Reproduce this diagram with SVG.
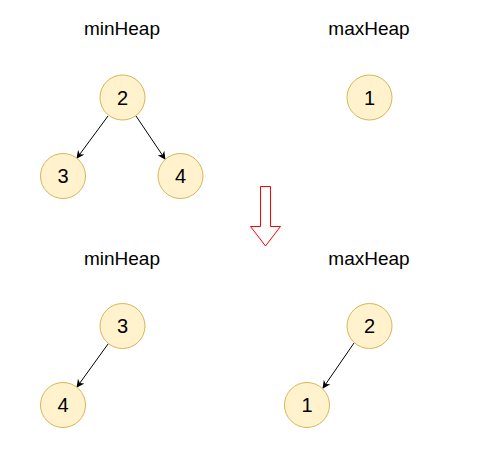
<svg xmlns="http://www.w3.org/2000/svg" width="478" height="460" viewBox="0 0 478 460">
<style>
.n{fill:#fff2cc;stroke:#d6b656;stroke-width:1}
.t{font-family:"Liberation Sans",Arial,sans-serif;font-size:20px;fill:#000;text-anchor:middle}
.h{font-family:"Liberation Sans",Arial,sans-serif;font-size:19px;fill:#000;text-anchor:middle}
.e{stroke:#000;stroke-width:1;fill:none;marker-end:url(#a)}
</style>
<defs>
<marker id="a" viewBox="0 0 10 10" refX="9" refY="5" markerWidth="8" markerHeight="8" markerUnits="userSpaceOnUse" orient="auto">
<path d="M0,0 L10,5 L0,10 L3,5 Z" fill="#000"/>
</marker>
</defs>
<rect width="478" height="460" fill="#fff"/>
<g id="labels">
<text class="h" x="122" y="35">minHeap</text>
<text class="h" x="369" y="35">maxHeap</text>
<text class="h" x="122" y="265">minHeap</text>
<text class="h" x="369" y="265">maxHeap</text>
</g>
<g id="connectors">
<line class="e" x1="108" y1="116" x2="77" y2="158"/>
<line class="e" x1="136" y1="116" x2="165" y2="159"/>
<line class="e" x1="108" y1="344" x2="77" y2="387"/>
<line class="e" x1="354" y1="343" x2="323" y2="388"/>
</g>
<g id="n-min-2"><circle class="n" cx="122.5" cy="97.5" r="22.5"/><text class="t" x="122.5" y="104.5">2</text></g>
<g id="n-min-3"><circle class="n" cx="63" cy="176" r="22.5"/><text class="t" x="63" y="183">3</text></g>
<g id="n-min-4"><circle class="n" cx="180.5" cy="176" r="22.5"/><text class="t" x="180.5" y="183">4</text></g>
<g id="n-max-1"><circle class="n" cx="369.5" cy="97.5" r="22.5"/><text class="t" x="369.5" y="104.5">1</text></g>
<g id="arrow-down"><path d="M260.5,186.5 L270.5,186.5 L270.5,226.5 L280.5,226.5 L265.5,246 L250.5,226.5 L260.5,226.5 Z" fill="#fff" stroke="#ff0000" stroke-width="1"/></g>
<g id="n-min2-3"><circle class="n" cx="122.5" cy="326" r="22.5"/><text class="t" x="122.5" y="333">3</text></g>
<g id="n-min2-4"><circle class="n" cx="63" cy="405" r="22.5"/><text class="t" x="63" y="412">4</text></g>
<g id="n-max2-2"><circle class="n" cx="369.5" cy="326" r="22.5"/><text class="t" x="369.5" y="333">2</text></g>
<g id="n-max2-1"><circle class="n" cx="307" cy="405" r="22.5"/><text class="t" x="307" y="412">1</text></g>
</svg>
